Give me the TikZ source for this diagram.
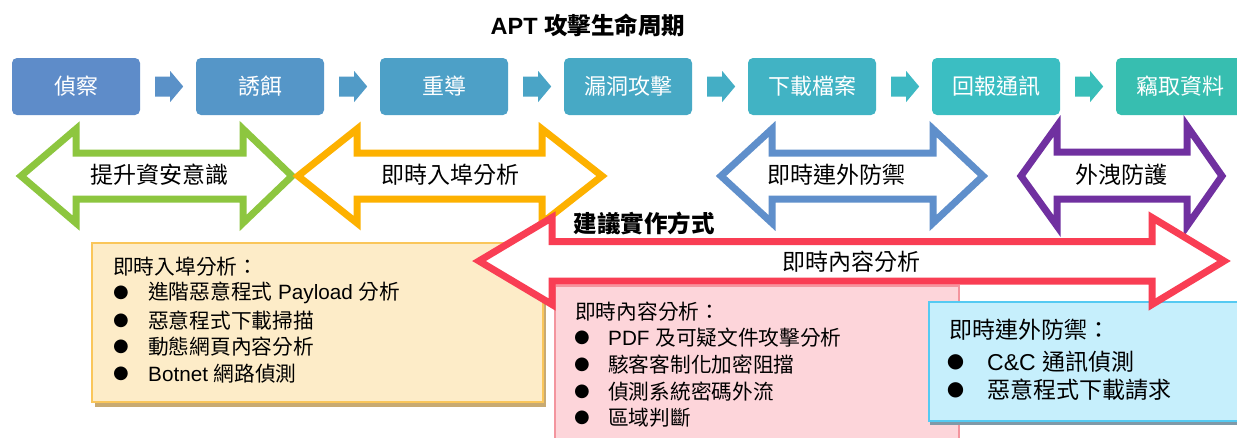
\documentclass[tikz,border=0pt]{standalone}
\usepackage{fontspec}
\setmainfont{Liberation Sans}
\newfontfamily\cjk{Noto Sans CJK TC}
\newfontfamily\sym{DejaVu Sans}
\definecolor{bA}{HTML}{5E8CC9}
\definecolor{bB}{HTML}{5596C8}
\definecolor{bC}{HTML}{4DA0C7}
\definecolor{bD}{HTML}{47A9C5}
\definecolor{bE}{HTML}{41B3C4}
\definecolor{bF}{HTML}{3BBEC2}
\definecolor{bG}{HTML}{37BEB0}
\definecolor{cgreen}{HTML}{8DC63F}
\definecolor{corange}{HTML}{FDB100}
\definecolor{cblue}{HTML}{5F8FCB}
\definecolor{cpurple}{HTML}{7030A0}
\definecolor{cred}{HTML}{F93E54}
\definecolor{yfill}{HTML}{FDECC8}
\definecolor{yline}{HTML}{FAC65A}
\definecolor{yshad}{HTML}{C8AA72}
\definecolor{pfill}{HTML}{FDD5DA}
\definecolor{pline}{HTML}{F3959E}
\definecolor{pshad}{HTML}{E69AA2}
\definecolor{lfill}{HTML}{C6EFFC}
\definecolor{lline}{HTML}{55CAF2}
\definecolor{lshad}{HTML}{7F99A8}
\tikzset{
  topbox/.style={rounded corners=5pt, minimum width=128pt, minimum height=57pt, inner sep=0pt,
    text=white, font=\cjk\fontsize{22}{26}\selectfont},
  dbl/.style={line width=7pt, miter limit=20},
  lbl/.style={inner sep=0pt, font=\cjk\fontsize{23}{27}\selectfont},
  txt/.style={inner sep=0pt, anchor=west, font=\fontsize{20.7}{24}\selectfont},
  txtb/.style={inner sep=0pt, anchor=west, font=\fontsize{23}{27}\selectfont},
  bul/.style={inner sep=0pt, font=\sym\fontsize{18}{18}\selectfont},
  bulb/.style={inner sep=0pt, font=\sym\fontsize{20}{20}\selectfont},
  panel/.style={inner sep=0pt, line width=2pt}
}
\newcommand\blkarrow[2]{\begin{scope}[shift={(#1.east)}]
  \fill[#2] (15,-10) -- (30,-10) -- (30,-15.5) -- (43,0) -- (30,15.5) -- (30,10) -- (15,10) -- cycle;
\end{scope}}
\begin{document}
\begin{tikzpicture}[x=1pt,y=-1pt]
\path[use as bounding box] (0,0) rectangle (1237,437);
\fill[white] (0,0) rectangle (1237,437);
\begin{scope}
\clip (0,0) rectangle (1237,437);
% title
\node[inner sep=0pt, font=\bfseries\fontsize{23.5}{27}\selectfont] (title) at (588,25) {APT {\cjk 攻擊生命周期}};
% top boxes
\node[topbox, fill=bA] (s1) at (76,86.5) {偵察};
\node[topbox, fill=bB] (s2) at (260,86.5) {誘餌};
\node[topbox, fill=bC] (s3) at (444,86.5) {重導};
\node[topbox, fill=bD] (s4) at (628,86.5) {漏洞攻擊};
\node[topbox, fill=bE] (s5) at (812,86.5) {下載檔案};
\node[topbox, fill=bF] (s6) at (996,86.5) {回報通訊};
\node[topbox, fill=bG] (s7) at (1180,86.5) {竊取資料};
\blkarrow{s1}{bA!50!bB}
\blkarrow{s2}{bB!50!bC}
\blkarrow{s3}{bC!50!bD}
\blkarrow{s4}{bD!50!bE}
\blkarrow{s5}{bE!50!bF}
\blkarrow{s6}{bF!50!bG}
% double arrows
\draw[dbl, draw=cgreen] (21,176) -- (76,129) -- (76,153) -- (243,153) -- (243,129) -- (292,176)
  -- (243,223) -- (243,199) -- (76,199) -- (76,223) -- cycle;
\draw[dbl, draw=corange] (298,176) -- (357,129) -- (357,153) -- (542,153) -- (542,129) -- (602,176)
  -- (542,223) -- (542,199) -- (357,199) -- (357,223) -- cycle;
\draw[dbl, draw=cblue] (721,176) -- (772,129) -- (772,153) -- (933,153) -- (933,129) -- (983,176)
  -- (933,223) -- (933,199) -- (772,199) -- (772,223) -- cycle;
\draw[dbl, draw=cpurple] (1021,176) -- (1057,126) -- (1057,152) -- (1187,152) -- (1187,126) -- (1222,176)
  -- (1187,226) -- (1187,199) -- (1057,199) -- (1057,226) -- cycle;
\node[lbl] (g1) at (159,175) {提升資安意識};
\node[lbl] (g2) at (450,175) {即時入埠分析};
\node[lbl] (g3) at (836,175) {即時連外防禦};
\node[lbl] (g4) at (1121,175) {外洩防護};
% yellow panel
\fill[yshad] (95,247) rectangle (546,407);
\node[panel, draw=yline, fill=yfill, minimum width=451pt, minimum height=159pt] (yb) at (317.5,322.5) {};
\node[txt] (y0) at (113,267) {\cjk 即時入埠分析：};
\node[bul] (yb1) at (121,293) {●};
\node[bul] (yb2) at (121,321) {●};
\node[bul] (yb3) at (121,347) {●};
\node[bul] (yb4) at (121,374) {●};
\node[txt] (y1) at (148,293) {{\cjk 進階惡意程式} Payload {\cjk 分析}};
\node[txt] (y2) at (148,321) {\cjk 惡意程式下載掃描};
\node[txt] (y3) at (148,347) {\cjk 動態網頁內容分析};
\node[txt] (y4) at (148,374) {Botnet {\cjk 網路偵測}};
% pink panel
\fill[pshad] (555,288) rectangle (959,450);
\node[panel, draw=pline, fill=pfill, minimum width=404pt, minimum height=160pt] (pb) at (554,285) [anchor=north west] {};
\node[txt] (p0) at (575,312) {\cjk 即時內容分析：};
\node[bul] (pb1) at (582,338) {●};
\node[bul] (pb2) at (582,365) {●};
\node[bul] (pb3) at (582,392) {●};
\node[bul] (pb4) at (582,418) {●};
\node[txt] (p1) at (608,338) {PDF {\cjk 及可疑文件攻擊分析}};
\node[txt] (p2) at (608,365) {\cjk 駭客客制化加密阻擋};
\node[txt] (p3) at (608,392) {\cjk 偵測系統密碼外流};
\node[txt] (p4) at (608,418) {\cjk 區域判斷};
% light blue panel
\fill[lshad] (930,305) rectangle (1250,425);
\node[panel, draw=lline, fill=lfill, minimum width=318pt, minimum height=119pt] (lb) at (928,301) [anchor=north west] {};
\node[txtb] (l0) at (949,330) {\cjk 即時連外防禦：};
\node[bulb] (lb1) at (955.5,362) {●};
\node[bulb] (lb2) at (955.5,390) {●};
\node[txtb] (l1) at (987,362) {C\&C {\cjk 通訊偵測}};
\node[txtb] (l2) at (987,390) {\cjk 惡意程式下載請求};
% red arrow
\filldraw[dbl, draw=cred, fill=white] (479,261) -- (552,217.5) -- (552,241.5) -- (1152,241.5) -- (1152,217.5) -- (1224,261)
  -- (1152,304.5) -- (1152,281) -- (552,281) -- (552,304.5) -- cycle;
\node[lbl] (r1) at (851,262) {即時內容分析};
\node[inner sep=0pt, font=\cjk\bfseries\fontsize{23.5}{27}\selectfont] (rec) at (644,223) {建議實作方式};
\end{scope}
\end{tikzpicture}
\end{document}
